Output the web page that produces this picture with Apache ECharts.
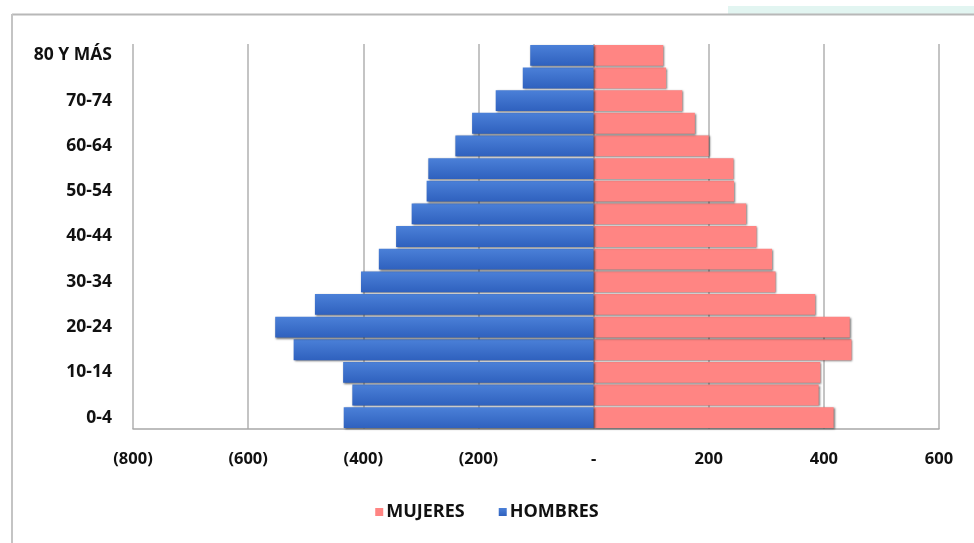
<!DOCTYPE html>
<html>
<head>
<meta charset="utf-8">
<script src="https://cdn.jsdelivr.net/npm/echarts@6/dist/echarts.min.js"></script>
<style>
html,body{margin:0;padding:0;background:#fff;}
#c{width:974px;height:543px;}
</style>
</head>
<body>
<div id="c"></div>
<script>
const categories = ['0-4','5-9','10-14','15-19','20-24','25-29','30-34','35-39','40-44','45-49','50-54','55-59','60-64','65-69','70-74','75-79','80 Y MÁS'];
const mujeres = [417, 391, 394, 448, 445, 385, 316, 310, 283, 265, 244, 243, 200, 176, 154, 126, 121];
const hombres = [-434, -419, -435, -521, -553, -484, -404, -373, -343, -316, -290, -287, -240, -211, -170, -123, -110];
const xTicks = { '-800':'(800)', '-600':'(600)', '-400':'(400)', '-200':'(200)', '0':'-', '200':'200', '400':'400', '600':'600' };

const chart = echarts.init(document.getElementById('c'));
const font = 'Open Sans';
const shadow = { shadowBlur: 2, shadowColor: 'rgba(0,0,0,0.55)', shadowOffsetX: 1, shadowOffsetY: 1 };
chart.setOption({
  animation: false,
  textStyle: { fontFamily: font },
  graphic: [
    { type: 'rect', shape: { x: 728, y: 6, width: 246, height: 8 }, style: { fill: '#e2f5f1' }, silent: true },
    { type: 'line', shape: { x1: 12, y1: 14.5, x2: 974, y2: 14.5 }, style: { stroke: '#b8b8b8', lineWidth: 2 }, silent: true },
    { type: 'line', shape: { x1: 12, y1: 14, x2: 12, y2: 543 }, style: { stroke: '#c4c4c4', lineWidth: 2 }, silent: true }
  ],
  grid: { left: 133, right: 35, top: 44, bottom: 114, containLabel: false },
  legend: {
    bottom: 17, left: 'center',
    itemWidth: 8, itemHeight: 8, itemGap: 34,
    icon: 'rect',
    textStyle: { fontFamily: font, fontWeight: 'bold', fontSize: 18, color: '#111', padding: [0,0,0,-2] },
    data: ['MUJERES', 'HOMBRES']
  },
  xAxis: {
    type: 'value', min: -800, max: 600, interval: 200,
    axisLine: { show: true, lineStyle: { color: '#a8a8a8', width: 1.5 } },
    axisTick: { show: false },
    splitLine: { show: true, lineStyle: { color: '#b0b0b0', width: 1.5 } },
    axisLabel: {
      margin: 22, fontFamily: font, fontWeight: 'bold', fontSize: 16.5, color: '#111',
      formatter: v => xTicks[String(v)]
    }
  },
  yAxis: {
    type: 'category', data: categories,
    axisLine: { show: false }, axisTick: { show: false },
    axisLabel: { interval: 1, margin: 21, fontFamily: font, fontWeight: 'bold', fontSize: 17.5, color: '#111' }
  },
  series: [
    {
      name: 'MUJERES', type: 'bar', stack: 'p', barCategoryGap: '8%',
      data: mujeres,
      itemStyle: Object.assign({ color: '#ff8583' }, shadow)
    },
    {
      name: 'HOMBRES', type: 'bar', stack: 'p', barCategoryGap: '8%',
      data: hombres,
      itemStyle: Object.assign({
        color: new echarts.graphic.LinearGradient(0, 0, 0, 1, [
          { offset: 0, color: '#4b80d8' }, { offset: 1, color: '#2f61be' }
        ])
      }, shadow)
    }
  ]
});
</script>
</body>
</html>
